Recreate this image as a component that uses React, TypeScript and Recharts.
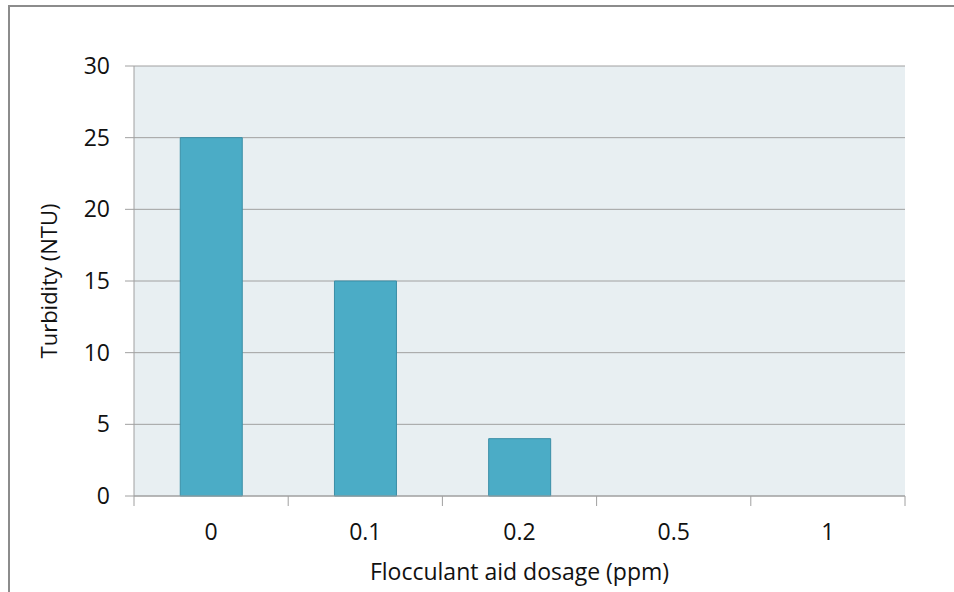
import { BarChart, Bar, XAxis, YAxis, CartesianGrid } from "recharts";

const dosages = ["0", "0.1", "0.2", "0.5", "1"];
const turbidity = [25, 15, 4, 0, 0];
const yTicks = [0, 5, 10, 15, 20, 25, 30];

const data = dosages.map((d, i) => ({ dosage: d, turbidity: turbidity[i] }));

const FONT = "'Open Sans', sans-serif";
const AXIS_GRAY = "#a0a0a0";
const TEXT = "#111111";

// category ticks sit on the band boundaries, like the spreadsheet original
function DosageTick(props: any) {
  const { x, y, payload, index, width, visibleTicksCount } = props;
  const half = (width ?? 771) / (visibleTicksCount ?? 5) / 2;
  const last = index === (visibleTicksCount ?? 5) - 1;
  return (
    <g>
      <line x1={x - half} y1={y} x2={x - half} y2={y + 10} stroke={AXIS_GRAY} />
      {last && <line x1={x + half} y1={y} x2={x + half} y2={y + 10} stroke={AXIS_GRAY} />}
      <text x={x} y={y + 44} textAnchor="middle" fill={TEXT} fontSize={23} fontFamily={FONT}>
        {payload.value}
      </text>
    </g>
  );
}

function YTitle(props: any) {
  const vb = props.viewBox;
  const cx = vb.x + 48;
  const cy = vb.y + vb.height / 2;
  return (
    <text
      x={cx}
      y={cy}
      transform={`rotate(-90 ${cx} ${cy})`}
      textAnchor="middle"
      dominantBaseline="central"
      fill={TEXT}
      fontSize={22}
      fontFamily={FONT}
    >
      Turbidity (NTU)
    </text>
  );
}

function XTitle(props: any) {
  const vb = props.viewBox;
  return (
    <text
      x={vb.x + vb.width / 2}
      y={vb.y + 84}
      textAnchor="middle"
      fill={TEXT}
      fontSize={23}
      fontFamily={FONT}
    >
      Flocculant aid dosage (ppm)
    </text>
  );
}

export default function App() {
  return (
    <div style={{ position: "absolute", left: 0, top: 0, width: 954, height: 592, overflow: "hidden" }}>
      <div
        style={{
          position: "absolute",
          left: 8,
          top: 5,
          width: 980,
          height: 620,
          borderTop: "2px solid #8c8c8c",
          borderLeft: "2px solid #8c8c8c",
        }}
      />
      <div style={{ position: "absolute", left: 0, top: 0 }}>
        <BarChart
          width={954}
          height={592}
          data={data}
          margin={{ top: 66, right: 49, left: 0, bottom: 0 }}
          barCategoryGap="30%"
        >
          <CartesianGrid vertical={false} stroke={AXIS_GRAY} fill="#e8eff2" />
          <XAxis
            dataKey="dosage"
            height={96}
            tickLine={false}
            tickSize={0}
            tickMargin={0}
            axisLine={{ stroke: AXIS_GRAY }}
            tick={<DosageTick />}
            interval={0}
            label={<XTitle />}
          />
          <YAxis
            width={134}
            domain={[0, 30]}
            ticks={yTicks}
            tickSize={9}
            tickMargin={15}
            tickLine={{ stroke: AXIS_GRAY }}
            axisLine={{ stroke: AXIS_GRAY }}
            tick={{ fill: TEXT, fontSize: 23, fontFamily: FONT }}
            label={<YTitle />}
          />
          <Bar dataKey="turbidity" fill="#4bacc6" stroke="#3a8ea6" strokeWidth={1} isAnimationActive={false} />
        </BarChart>
      </div>
    </div>
  );
}
